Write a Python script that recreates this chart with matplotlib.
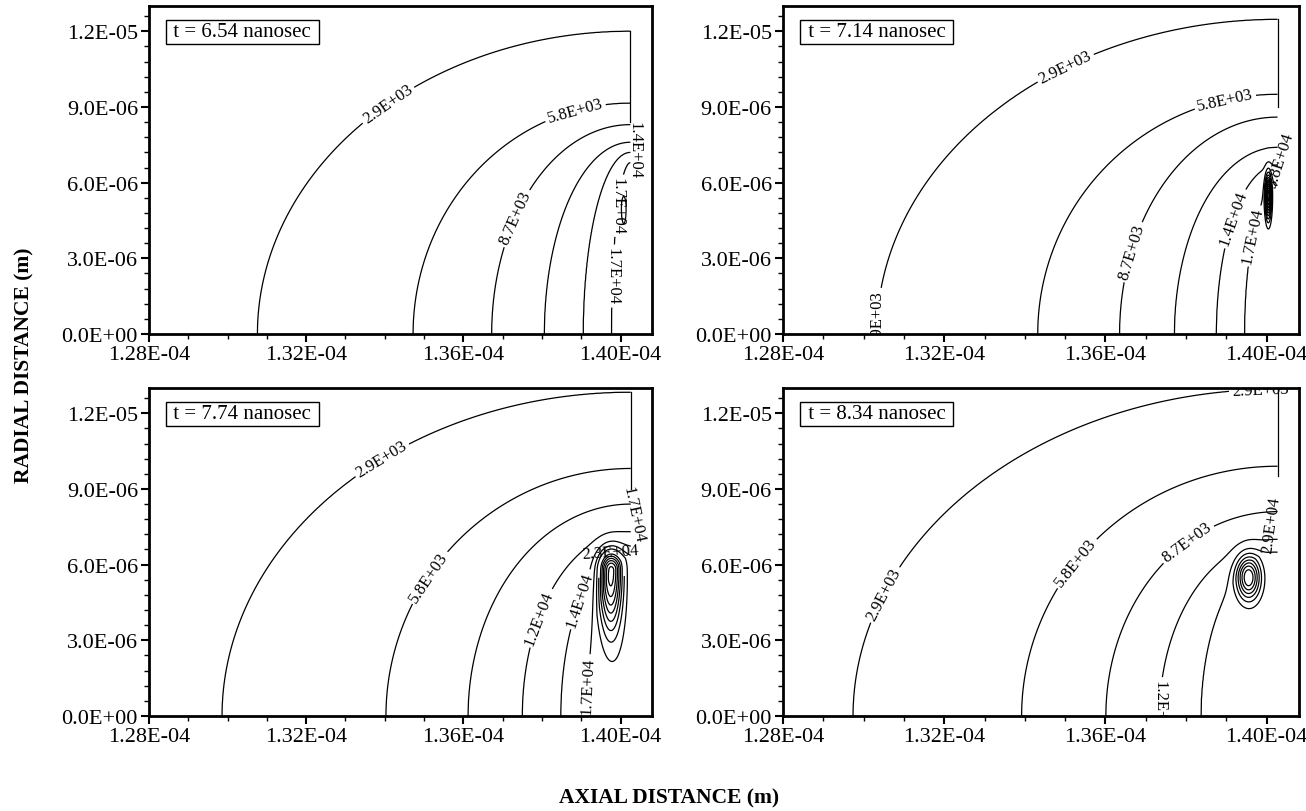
import numpy as np
import matplotlib
matplotlib.use("Agg")
import matplotlib.pyplot as plt
from matplotlib.ticker import FuncFormatter, MultipleLocator

plt.rcParams['font.family'] = ['Liberation Serif', 'DejaVu Serif']

# --- data (metres) ---
times = ["6.54", "7.14", "7.74", "8.34"]
edge_x = [1.4025e-4, 1.4027e-4, 1.4026e-4, 1.4027e-4]   # right edge of the heated zone
edge_low = [8.4e-6, 9.0e-6, 9.0e-6, 9.5e-6]             # where the edge line stops

step = 2.9e3   # contour spacing
level_idx = [[1, 2, 3, 4, 5, 6],
             [1, 2, 3, 4, 5, 6],
             [1, 2, 3, 4, 5, 6],
             [1, 2, 3, 4, 5]]
# where each contour meets the axis (r = 0)
x_cross = [[1.3076e-4, 1.3472e-4, 1.3672e-4, 1.3806e-4, 1.3905e-4, 1.3977e-4],
           [1.3033e-4, 1.3432e-4, 1.3635e-4, 1.3771e-4, 1.3875e-4, 1.3945e-4],
           [1.2986e-4, 1.3403e-4, 1.3612e-4, 1.3750e-4, 1.3848e-4, 1.3915e-4],
           [1.2974e-4, 1.3392e-4, 1.3601e-4, 1.3734e-4, 1.3837e-4]]
# height where each contour meets the edge
y_top = [[12.0e-6, 9.15e-6, 8.3e-6, 7.6e-6, 7.2e-6, 6.8e-6],
         [12.47e-6, 9.5e-6, 8.6e-6, 7.4e-6, 6.7e-6, 5.9e-6],
         [12.83e-6, 9.81e-6, 8.4e-6, 7.3e-6, 6.7e-6, 6.3e-6],
         [12.95e-6, 9.9e-6, 8.1e-6, 7.0e-6, 6.5e-6]]
# hot spot near the edge
spot_x = [1.4008e-4, 1.4004e-4, 1.3975e-4, 1.3955e-4]
spot_y = [5.0e-6, 5.5e-6, 5.8e-6, 5.5e-6]
spot_sx = [0.05e-6, 0.05e-6, 0.2e-6, 0.2e-6]
spot_up = [0.4e-6, 0.5e-6, 0.5e-6, 0.55e-6]
spot_down = [0.5e-6, 0.6e-6, 1.6e-6, 0.6e-6]
spot_amp = [5e3, 2.8e4, 2.5e4, 2.0e4]

label_pos = [[(1.3411e-4, 9.06e-6), (1.3886e-4, 8.74e-6), (1.3737e-4, 4.57e-6),
              (1.3993e-4, 5.1e-6), (1.3983e-4, 2.3e-6)],
             [(1.350e-4, 10.6e-6), (1.390e-4, 9.06e-6), (1.3666e-4, 3.26e-6),
              (1.3035e-4, 0.6e-6), (1.390e-4, 4.7e-6), (1.3948e-4, 4.0e-6)],
             [(1.3396e-4, 10.1e-6), (1.3518e-4, 5.44e-6), (1.3784e-4, 3.97e-6),
              (1.3869e-4, 4.77e-6), (1.3975e-4, 6.55e-6), (1.3925e-4, 1.2e-6)],
             [(1.3056e-4, 4.77e-6), (1.3536e-4, 5.96e-6), (1.3797e-4, 7.0e-6),
              (1.3734e-4, 0.3e-6), (1.3985e-4, 12.9e-6)]]
# forced rotation for labels that read top-to-bottom (None = follow the line)
label_rot = [[None, None, None, -90, -90],
             [None, None, None, 90, None, None],
             [None, None, None, None, None, None],
             [None, None, None, -90, None]]
# labels that sit on the edge or on the tiny loops: text, x, y, rotation
free_text = [[("1.4E+04", 1.4035e-4, 7.3e-6, -90)],
             [("3.8E+04", 1.4033e-4, 6.9e-6, 72)],
             [("1.7E+04", 1.4033e-4, 8.0e-6, -78)],
             [("2.9E+04", 1.4012e-4, 7.6e-6, 82)]]

x_min, x_max = 1.28e-4, 1.408e-4
y_min, y_max = 0.0, 1.3e-5

positions = [[0.1141, 0.5874, 0.3851, 0.4039],
             [0.5995, 0.5874, 0.3951, 0.4039],
             [0.1141, 0.1170, 0.3851, 0.4039],
             [0.5995, 0.1170, 0.3951, 0.4039]]


def field(p, X, Y):
    x0 = edge_x[p]
    L = np.array(level_idx[p]) * step
    a = x0 - np.array(x_cross[p])
    b = np.array(y_top[p])
    r = np.stack([np.hypot((x0 - X) / a[k], Y / b[k]) for k in range(len(L))])
    V = L[0] * (2 - r[0])
    with np.errstate(divide='ignore', invalid='ignore'):
        for k in range(len(L) - 1):
            inside = (r[k] < 1) & (r[k + 1] >= 1)
            t = (1 - r[k]) / (r[k + 1] - r[k])
            V = np.where(inside, L[k] + t * (L[k + 1] - L[k]), V)
    V = np.where(r[-1] < 1, L[-1] + (1 - r[-1]) * 0.8 * step, V)
    sy = np.where(Y > spot_y[p], spot_up[p], spot_down[p])
    V = V + spot_amp[p] * np.exp(-0.5 * ((X - spot_x[p]) / spot_sx[p]) ** 2
                                 - 0.5 * ((Y - spot_y[p]) / sy) ** 2)
    return V


def fmt(v):
    return "%.1E" % v


fig = plt.figure(figsize=(13.06, 8.12), dpi=100)

for p in range(4):
    ax = fig.add_axes(positions[p])
    x0 = edge_x[p]
    xs = np.linspace(x_min, x0, 800)
    ys = np.linspace(y_min, y_max, 700)
    X, Y = np.meshgrid(xs, ys)
    V = field(p, X, Y)

    ax.set_xlim(x_min, x_max)
    ax.set_ylim(y_min, y_max)
    cs = ax.contour(X, Y, V, levels=np.arange(1, 16) * step, colors='k', linewidths=0.9)
    texts = ax.clabel(cs, manual=label_pos[p], inline=True, fmt=fmt, fontsize=12,
                      inline_spacing=3)
    for t, rot in zip(texts, label_rot[p]):
        t.set_clip_on(True)
        if rot is not None:
            t.set_rotation(rot)

    ax.plot([x0, x0], [y_top[p][0], edge_low[p]], color='k', lw=0.9)
    for s, xx, yy, rot in free_text[p]:
        ax.text(xx, yy, s, rotation=rot, ha='center', va='center', fontsize=12,
                rotation_mode='anchor')

    ax.text(0.038, 0.951, " t = %s nanosec " % times[p], transform=ax.transAxes,
            ha='left', va='top', fontsize=15,
            bbox=dict(boxstyle='square,pad=0.12', fc='white', ec='k', lw=1))

    ax.xaxis.set_major_locator(MultipleLocator(4e-6))
    ax.xaxis.set_minor_locator(MultipleLocator(1e-6))
    ax.yaxis.set_major_locator(MultipleLocator(3e-6))
    ax.yaxis.set_minor_locator(MultipleLocator(0.6e-6))
    ax.xaxis.set_major_formatter(FuncFormatter(lambda v, pos: "%.2E" % v))
    ax.yaxis.set_major_formatter(FuncFormatter(lambda v, pos: "%.1E" % v))
    ax.tick_params(which='major', direction='out', length=6, width=1.5,
                   top=False, right=False, labelsize=16, pad=2)
    ax.tick_params(which='minor', direction='out', length=3.5, width=1,
                   top=False, right=False)
    for sp in ax.spines.values():
        sp.set_linewidth(2)

fig.text(0.019, 0.55, "RADIAL DISTANCE (m)", rotation=90, ha='center', va='center',
         fontsize=15.5, fontweight='bold')
fig.text(0.512, 0.017, "AXIAL DISTANCE (m)", ha='center', va='center',
         fontsize=15.5, fontweight='bold')

fig.savefig("out.png", dpi=100)
